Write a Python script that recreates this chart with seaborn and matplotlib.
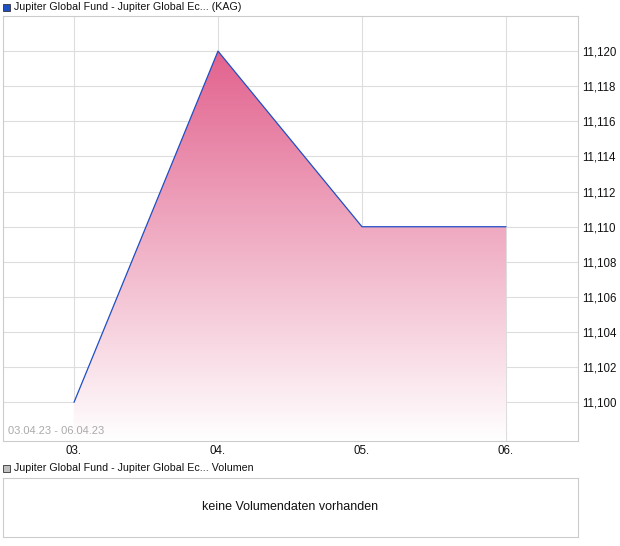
import numpy as np
import pandas as pd
import seaborn as sns
import matplotlib.pyplot as plt
from matplotlib.colors import LinearSegmentedColormap
from matplotlib.ticker import FuncFormatter

# Kursdaten 03.04.23 - 06.04.23
days = ["03.", "04.", "05.", "06."]
prices = [11.100, 11.120, 11.110, 11.110]

df = pd.DataFrame({"x": np.arange(len(days)), "price": prices})

sns.set_style("white")
plt.rcParams["font.family"] = ["Liberation Sans", "DejaVu Sans"]

fig = plt.figure(figsize=(6.2, 5.46), dpi=100)
W, H = 620, 546
ax = fig.add_axes([3 / W, 1 - 441 / H, 575 / W, 425 / H])
ax2 = fig.add_axes([3 / W, 1 - 537 / H, 575 / W, 59 / H])

grid_c = "#dddddd"
ymin, ymax = 11.0978, 11.122

# gradient fill below the line, clipped to the area
cmap = LinearSegmentedColormap.from_list("pinkfade", ["#ffffff", "#e2628e"])
grad = np.linspace(0, 1, 256).reshape(-1, 1)
img = ax.imshow(grad, cmap=cmap, origin="lower", aspect="auto",
                extent=[df.x.min(), df.x.max(), ymin, max(prices)], zorder=2)
poly = ax.fill_between(df.x, df.price, ymin, color="none", lw=0)
clip = poly.get_paths()[0]
img.set_clip_path(clip, transform=ax.transData)

sns.lineplot(data=df, x="x", y="price", ax=ax, color="#1f4fc4", lw=0.9, zorder=3)

ax.set_xlim(-0.493, 3.5)
ax.set_ylim(ymin, ymax)
ax.set_xticks(df.x)
ax.set_xticklabels(days)
ax.set_yticks(np.arange(11.100, 11.1205, 0.002))
ax.yaxis.set_major_formatter(FuncFormatter(lambda v, p: f"{v:.3f}".replace(".", ",")))
ax.yaxis.tick_right()
ax.tick_params(axis="both", length=0, labelsize=8.3, colors="#111111")
ax.tick_params(axis="y", pad=3)
ax.tick_params(axis="x", pad=3)
ax.grid(True, color=grid_c, lw=0.8, zorder=0)
ax.set_axisbelow(True)
ax.set_xlabel("")
ax.set_ylabel("")
for s in ax.spines.values():
    s.set_color("#cccccc")
    s.set_linewidth(0.8)

ax.text(0.008, 0.012, "03.04.23 - 06.04.23", transform=ax.transAxes,
        fontsize=8, color="#aaaaaa", ha="left", va="bottom", zorder=4)

# legend-like headers
fig.patches.append(plt.Rectangle((3 / W, 1 - 11 / H), 7 / W, 7 / H, transform=fig.transFigure,
                                 facecolor="#1f4fc4", edgecolor="#333333", lw=0.6))
fig.text(14 / W, 1 - 7 / H, "Jupiter Global Fund - Jupiter Global Ec... (KAG)",
         fontsize=7.7, va="center", ha="left", color="#111111")
fig.patches.append(plt.Rectangle((3 / W, 1 - 472 / H), 7 / W, 7 / H, transform=fig.transFigure,
                                 facecolor="#c0c0c0", edgecolor="#333333", lw=0.6))
fig.text(14 / W, 1 - 468 / H, "Jupiter Global Fund - Jupiter Global Ec... Volumen",
         fontsize=7.7, va="center", ha="left", color="#111111")

# volume panel (empty)
ax2.set_xticks([])
ax2.set_yticks([])
for s in ax2.spines.values():
    s.set_color("#cccccc")
    s.set_linewidth(0.8)
ax2.text(0.5, 0.5, "keine Volumendaten vorhanden", transform=ax2.transAxes,
         ha="center", va="center", fontsize=9, color="#111111")

fig.savefig("out.png", dpi=100)
